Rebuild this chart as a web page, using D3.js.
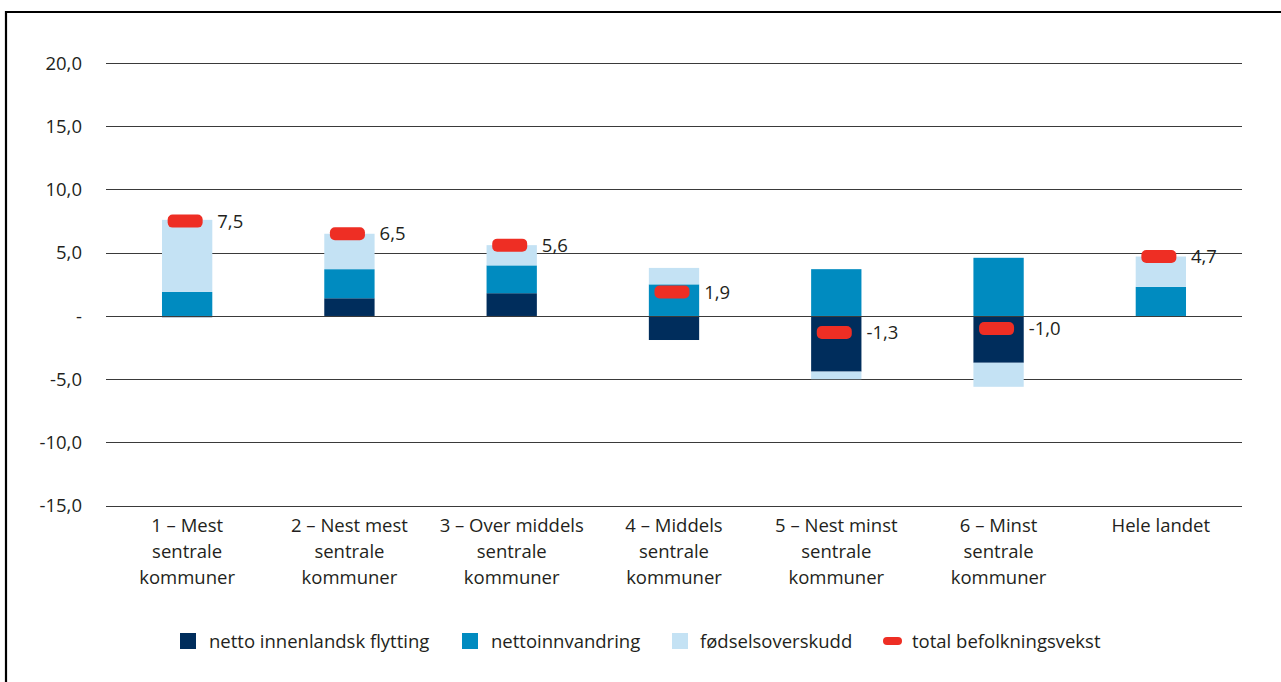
<!DOCTYPE html>
<html>
<head>
<meta charset="utf-8">
<script src="https://cdn.jsdelivr.net/npm/d3@7"></script>
<style>
  html, body { margin: 0; padding: 0; background: #fff; }
  svg { display: block; }
  text { font-family: "Open Sans", "Noto Sans", sans-serif; fill: #231f20; }
</style>
</head>
<body>
<svg id="chart" width="1281" height="682"></svg>
<script>
// ---- data ----
const categories = [
  ["1 – Mest", "sentrale", "kommuner"],
  ["2 – Nest mest", "sentrale", "kommuner"],
  ["3 – Over middels", "sentrale", "kommuner"],
  ["4 – Middels", "sentrale", "kommuner"],
  ["5 – Nest minst", "sentrale", "kommuner"],
  ["6 – Minst", "sentrale", "kommuner"],
  ["Hele landet"]
];
const seriesNames = ["netto innenlandsk flytting", "nettoinnvandring", "fødselsoverskudd"];
const innenlandsk = [-0.1, 1.4, 1.8, -1.9, -4.4, -3.7, 0.0];
const innvandring = [1.9, 2.3, 2.2, 2.5, 3.7, 4.6, 2.3];
const fodsel = [5.7, 2.8, 1.6, 1.3, -0.6, -1.9, 2.4];
const total = [7.5, 6.5, 5.6, 1.9, -1.3, -1.0, 4.7];
const totalName = "total befolkningsvekst";
const yTicks = [-15, -10, -5, 0, 5, 10, 15, 20];

// ---- styles ----
const colors = ["#002d5c", "#008bc0", "#c4e2f4"];
const red = "#ee2e24";
const FS = "18.5px";

const svg = d3.select("#chart");
const W = 1281, H = 682;

// frame (top and left edges visible)
svg.append("path")
  .attr("d", `M6,${H} L6,12 L${W},12`)
  .attr("fill", "none").attr("stroke", "#000").attr("stroke-width", 2.2);

const x = d3.scaleBand().domain(d3.range(categories.length)).range([106, 1242]).paddingInner(0.69).paddingOuter(0.345);
const y = d3.scaleLinear().domain([-15, 20]).range([505.7, 63]);

const fmt = v => v === 0 ? "-" : d3.format(".1f")(v).replace(".", ",").replace("−", "-");

// gridlines
svg.append("g").selectAll("line").data(yTicks).join("line")
  .attr("x1", 106).attr("x2", 1242)
  .attr("y1", d => Math.round(y(d)) + 0.5).attr("y2", d => Math.round(y(d)) + 0.5)
  .attr("stroke", "#3a3a3a").attr("stroke-width", 1.2);

// y labels
svg.append("g").selectAll("text").data(yTicks).join("text")
  .attr("x", 82).attr("y", d => y(d))
  .attr("dy", "0.36em")
  .attr("text-anchor", "end")
  .style("font-size", FS)
  .text(fmt);

// stacked data
const rows = categories.map((c, i) => ({ i, s0: innenlandsk[i], s1: innvandring[i], s2: fodsel[i] }));
const stack = d3.stack().keys(["s0", "s1", "s2"]).offset(d3.stackOffsetDiverging);
const stacked = stack(rows);

svg.append("g").selectAll("g").data(stacked).join("g")
  .attr("fill", (d, k) => colors[k])
  .selectAll("rect").data(d => d).join("rect")
  .attr("x", d => x(d.data.i))
  .attr("width", x.bandwidth())
  .attr("y", d => y(Math.max(d[0], d[1])))
  .attr("height", d => Math.abs(y(d[0]) - y(d[1])));

// zero line over bars
svg.append("line")
  .attr("x1", 106).attr("x2", 1242)
  .attr("y1", Math.round(y(0)) + 0.5).attr("y2", Math.round(y(0)) + 0.5)
  .attr("stroke", "#3a3a3a").attr("stroke-width", 1.2);

// totals markers
const mw = 35, mh = 13;
svg.append("g").selectAll("rect").data(total).join("rect")
  .attr("x", (d, i) => x(i) + x.bandwidth() / 2 - mw / 2 - 2)
  .attr("y", d => y(d) - mh / 2)
  .attr("width", mw).attr("height", mh)
  .attr("rx", 5).attr("ry", 5)
  .attr("fill", red);

svg.append("g").selectAll("text").data(total).join("text")
  .attr("x", (d, i) => x(i) + x.bandwidth() + 5)
  .attr("y", d => y(d))
  .attr("dy", "0.36em")
  .style("font-size", FS)
  .text(d => d3.format(".1f")(d).replace(".", ",").replace("−", "-"));

// category labels
const cat = svg.append("g").selectAll("text").data(categories).join("text")
  .attr("x", (d, i) => x(i) + x.bandwidth() / 2)
  .attr("y", 532)
  .attr("text-anchor", "middle")
  .style("font-size", FS);
cat.selectAll("tspan").data(d => d).join("tspan")
  .attr("x", function () { return d3.select(this.parentNode).attr("x"); })
  .attr("dy", (d, j) => j === 0 ? 0 : 26)
  .text(d => d);

// legend
const legendItems = [
  { name: seriesNames[0], color: colors[0], type: "sq", x: 180, tx: 209 },
  { name: seriesNames[1], color: colors[1], type: "sq", x: 462, tx: 491 },
  { name: seriesNames[2], color: colors[2], type: "sq", x: 672, tx: 700 },
  { name: totalName, color: red, type: "pill", x: 883, tx: 912 }
];
const lg = svg.append("g").selectAll("g").data(legendItems).join("g");
lg.append("rect")
  .attr("x", d => d.x)
  .attr("y", d => d.type === "sq" ? 633 : 637)
  .attr("width", d => d.type === "sq" ? 16 : 19)
  .attr("height", d => d.type === "sq" ? 16 : 8)
  .attr("rx", d => d.type === "sq" ? 0 : 4)
  .attr("fill", d => d.color);
lg.append("text")
  .attr("x", d => d.tx).attr("y", 641)
  .attr("dy", "0.36em")
  .style("font-size", FS)
  .text(d => d.name);
</script>
</body>
</html>
